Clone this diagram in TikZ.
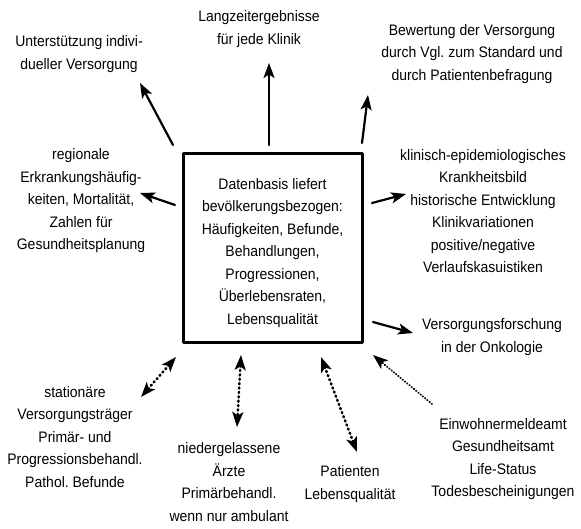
\documentclass[tikz,border=0pt]{standalone}
\usepackage{fontspec}
\setmainfont{Liberation Sans}[FakeStretch=0.92]
\usetikzlibrary{arrows.meta}
\begin{document}
\begin{tikzpicture}[x=1pt, y=-1pt, line join=round, line cap=round,
	font=\fontsize{15.2}{22.5}\selectfont,
	>={Stealth[length=15pt,width=11pt,inset=3.5pt]},
	txt/.style={align=center, inner sep=0pt},
	pfeil/.style={->, line width=2.2pt},
	punkt/.style={<->, line width=2.6pt, dash pattern=on 1pt off 3.4pt},
	fein/.style={->, line width=1.9pt, dash pattern=on 0.5pt off 2.4pt}]
	\useasboundingbox (0,0) rectangle (581,529);
	\node[draw, line width=3pt, minimum width=179pt, minimum height=188pt, inner sep=0pt] (basis) at (272.5,248) {};
	\node[txt] (basis-text) at ([yshift=-5pt]basis.center)
		{Datenbasis liefert\\bevölkerungsbezogen:\\Häufigkeiten, Befunde,\\Behandlungen,\\Progressionen,\\Überlebensraten,\\Lebensqualität};
	\node[txt] (hilfe) at (79,54) {Unterstützung indivi-\\dueller Versorgung};
	\node[txt] (langzeit) at (259,29) {Langzeitergebnisse\\für jede Klinik};
	\node[txt] (bewertung) at (472,54) {Bewertung der Versorgung\\durch Vgl.\ zum Standard und\\durch Patientenbefragung};
	\node[txt] (regional) at (81,201) {regionale\\Erkrankungshäufig-\\keiten, Mortalität,\\Zahlen für\\Gesundheitsplanung};
	\node[txt] (klinisch) at (483,211) {klinisch-epidemiologisches\\Krankheitsbild\\historische Entwicklung\\Klinikvariationen\\positive/negative\\Verlaufskasuistiken};
	\node[txt] (forschung) at (492,337) {Versorgungsforschung\\in der Onkologie};
	\node[txt] (stationaer) at (75,437) {stationäre\\Versorgungsträger\\Primär- und\\Progressionsbehandl.\\Pathol.\ Befunde};
	\node[txt] (praxis) at (229,482) {niedergelassene\\Ärzte\\Primärbehandl.\\wenn nur ambulant};
	\node[txt] (patient) at (350,484) {Patienten\\Lebensqualität};
	\node[txt] (amt) at (503,459) {Einwohnermeldeamt\\Gesundheitsamt\\Life-Status\\Todesbescheinigungen};
	% arrow ends
	\coordinate (hilfe-a) at (173,145);  \coordinate (hilfe-b) at (140,83);
	\coordinate (langzeit-a) at (269,145); \coordinate (langzeit-b) at (269,63);
	\coordinate (bewertung-a) at (362,143); \coordinate (bewertung-b) at (368,95);
	\coordinate (regional-a) at (175,205); \coordinate (regional-b) at (140,193);
	\coordinate (klinisch-a) at (372,203); \coordinate (klinisch-b) at (406,194);
	\coordinate (forschung-a) at (373,322); \coordinate (forschung-b) at (413,333);
	\coordinate (stationaer-a) at (176,357); \coordinate (stationaer-b) at (141,397);
	\coordinate (praxis-a) at (241,355); \coordinate (praxis-b) at (237,427);
	\coordinate (patient-a) at (321,357); \coordinate (patient-b) at (357,452);
	\coordinate (amt-a) at (432,404); \coordinate (amt-b) at (373,355);
	\draw[pfeil] (hilfe-a)--(hilfe-b);
	\draw[pfeil] (langzeit-a)--(langzeit-b);
	\draw[pfeil] (bewertung-a)--(bewertung-b);
	\draw[pfeil] (regional-a)--(regional-b);
	\draw[pfeil] (klinisch-a)--(klinisch-b);
	\draw[pfeil] (forschung-a)--(forschung-b);
	\draw[punkt] (stationaer-a)--(stationaer-b);
	\draw[punkt] (praxis-a)--(praxis-b);
	\draw[punkt] (patient-a)--(patient-b);
	\draw[fein] (amt-a)--(amt-b);
\end{tikzpicture}
\end{document}
